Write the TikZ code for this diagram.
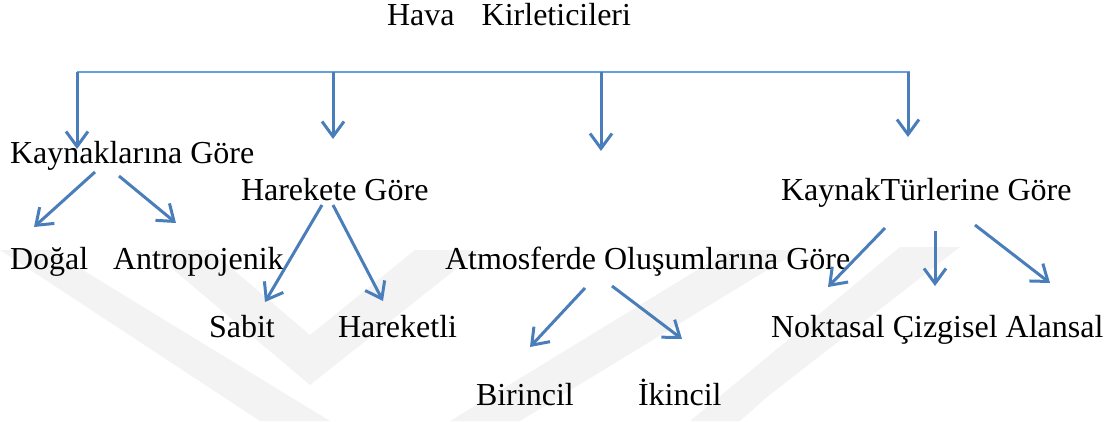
\documentclass[tikz,border=0pt]{standalone}
\usepackage{fontspec}
\setmainfont{Liberation Serif}
\usetikzlibrary{arrows.meta}
\definecolor{arrowblue}{RGB}{74,126,187}
\definecolor{lineblue}{RGB}{100,160,220}
\definecolor{wm}{RGB}{243,243,243}
\tikzset{
  lbl/.style={anchor=base west, inner sep=0pt, outer sep=0pt, font=\fontsize{32}{38}\selectfont},
  arr/.style={draw=arrowblue, line width=3pt, -{Straight Barb[length=15pt,width=22pt]}},
  topline/.style={draw=lineblue, line width=2.4pt},
  wmark/.style={fill=wm, draw=none}
}
\begin{document}
\begin{tikzpicture}[x=1pt,y=-1pt]
\useasboundingbox (0,0) rectangle (1116,421);
% watermark
\fill[wmark] (0,250) -- (50,250) -- (330,421) -- (260,421) -- cycle;
\fill[wmark] (150,250) -- (310,385) -- (480,250) -- (415,250) -- (310,335) -- (210,250) -- cycle;
\fill[wmark] (450,421) -- (730,250) -- (800,250) -- (520,421) -- cycle;
\fill[wmark] (690,421) -- (900,247) -- (960,247) -- (767,397) -- (740,421) -- cycle;
% texts
\node[lbl] (hava) at (387,25) {Hava\hspace{0.85em}Kirleticileri};
\node[lbl] (kg) at (10,163) {Kaynaklarına Göre};
\node[lbl] (hg) at (241,200) {Harekete Göre};
\node[lbl] (ktg) at (781,200) {KaynakTürlerine Göre};
\node[lbl] (dogal) at (10,269) {Doğal};
\node[lbl] (antro) at (113,269) {Antropojenik};
\node[lbl] (aog) at (445,269) {Atmosferde Oluşumlarına Göre};
\node[lbl] (sabit) at (209,337) {Sabit};
\node[lbl] (hareketli) at (338,337) {Hareketli};
\node[lbl] (nca) at (771,337) {Noktasal Çizgisel Alansal};
\node[lbl] (birincil) at (476,405) {Birincil};
\node[lbl] (ikincil) at (638,405) {İkincil};
% connector coordinates
\coordinate (tl) at (77,72);
\coordinate (tr) at (910,72);
\coordinate (t1) at (77,72);
\coordinate (t2) at (333,72);
\coordinate (t3) at (601,72);
\coordinate (t4) at (908,72);
\coordinate (e1) at (77,149);
\coordinate (e2) at (333,139);
\coordinate (e3) at (601,151);
\coordinate (e4) at (908,137);
\draw[topline] (tl) -- (tr);
\draw[arr] (t1) -- (e1);
\draw[arr] (t2) -- (e2);
\draw[arr] (t3) -- (e3);
\draw[arr] (t4) -- (e4);
% second level
\coordinate (kg1) at (95,172);   \coordinate (dog) at (34,227);
\coordinate (kg2) at (119,176);  \coordinate (ant) at (176,223);
\coordinate (hg1) at (322,205);  \coordinate (sab) at (265,302);
\coordinate (hg2) at (333,205);  \coordinate (har) at (383,301);
\coordinate (ao1) at (585,288);  \coordinate (bir) at (530,347);
\coordinate (ao2) at (612,286);  \coordinate (iki) at (682,339);
\coordinate (kt1) at (885,228);  \coordinate (nok) at (828,287);
\coordinate (kt2) at (935,231);  \coordinate (ciz) at (935,286);
\coordinate (kt3) at (975,225);  \coordinate (ala) at (1050,283);
\draw[arr] (kg1) -- (dog);
\draw[arr] (kg2) -- (ant);
\draw[arr] (hg1) -- (sab);
\draw[arr] (hg2) -- (har);
\draw[arr] (ao1) -- (bir);
\draw[arr] (ao2) -- (iki);
\draw[arr] (kt1) -- (nok);
\draw[arr] (kt2) -- (ciz);
\draw[arr] (kt3) -- (ala);
\end{tikzpicture}
\end{document}
